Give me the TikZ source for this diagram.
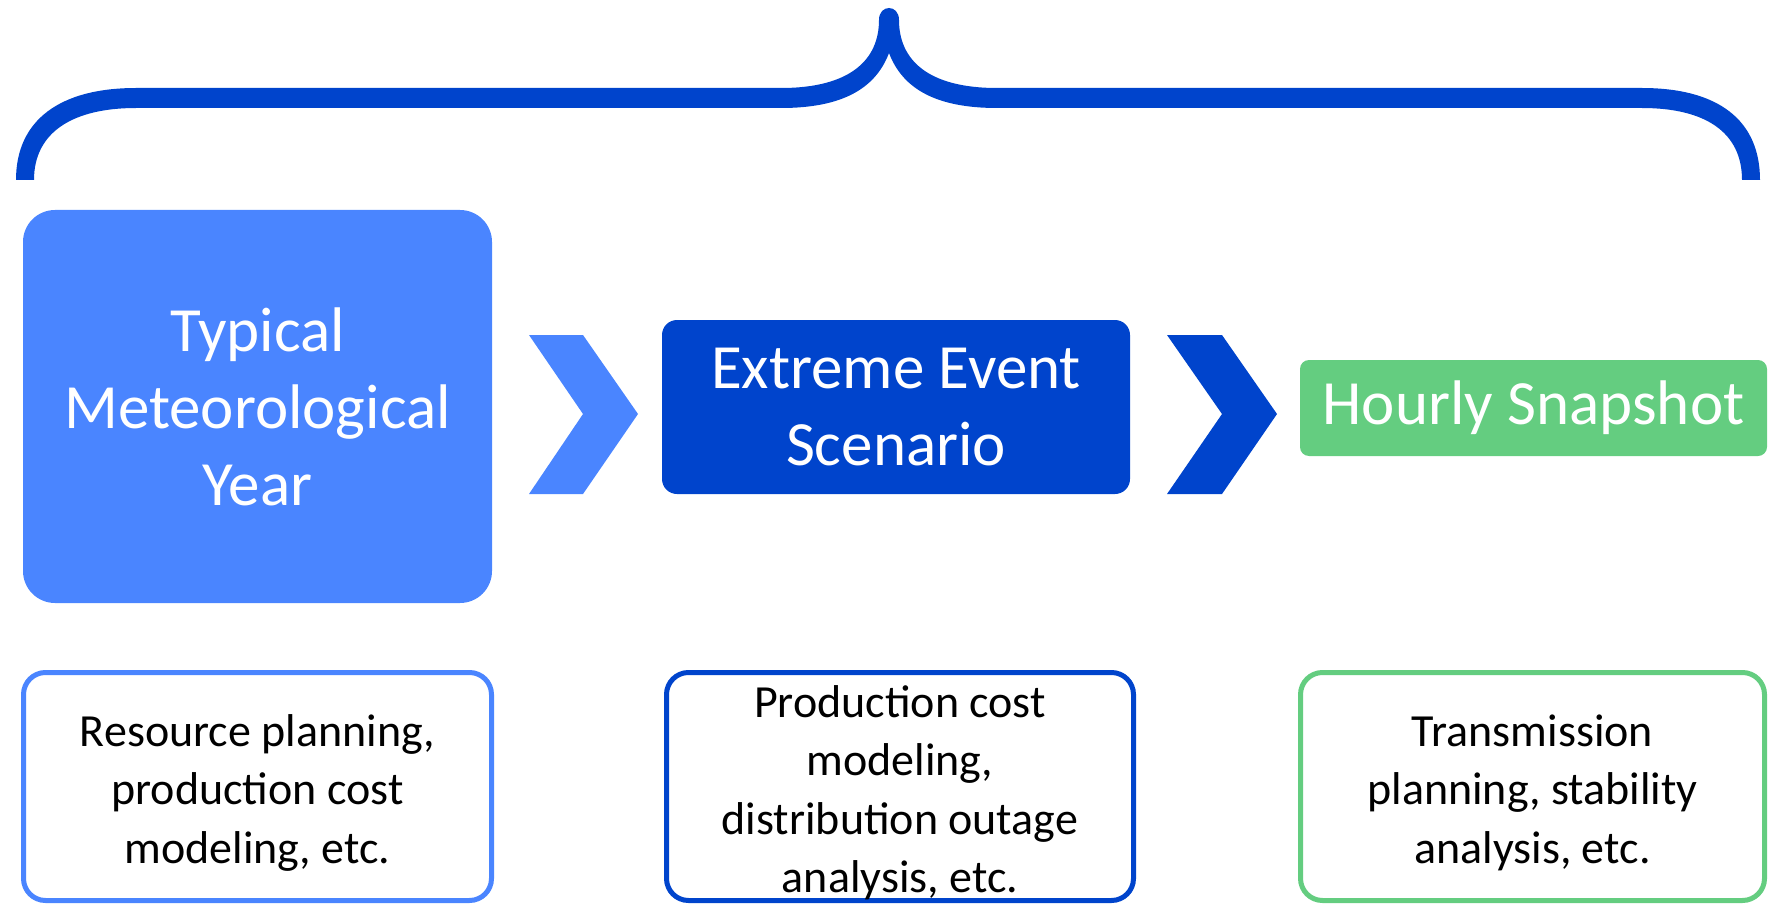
\documentclass[tikz,border=0pt]{standalone}
\usepackage{fontspec}
\setmainfont{Carlito}
\definecolor{skyblue}{HTML}{4A85FF}
\definecolor{royal}{HTML}{0044CC}
\definecolor{mint}{HTML}{64CD80}
\begin{document}
\begin{tikzpicture}[x=1pt,y=-1pt,
  stage/.style={inner sep=0pt, text=white, align=center,
    font=\fontsize{63}{77}\selectfont},
  usecase/.style={draw, line width=5pt, fill=white, inner sep=0pt,
    rounded corners=22pt, minimum height=228pt},
  usetext/.style={inner sep=0pt, align=center, text=black,
    font=\fontsize{46}{58.5}\selectfont}]
\useasboundingbox (0,0) rectangle (1775,904);

% curly brace spanning the three stages
\fill[royal]
  (16,180) .. controls (16,120) and (60,88) .. (136,88)
  -- (781,88) .. controls (850,88) and (879,60) .. (879,20)
  .. controls (879,4) and (899,4) .. (899,20)
  .. controls (899,60) and (928,88) .. (997,88)
  -- (1642,88) .. controls (1718,88) and (1760,120) .. (1760,180)
  -- (1742,180) .. controls (1742,132) and (1705,108) .. (1642,108)
  -- (997,108) .. controls (938,108) and (903,90) .. (889,53)
  .. controls (875,90) and (840,108) .. (781,108)
  -- (136,108) .. controls (73,108) and (34,132) .. (34,180)
  -- cycle;

% stages
\node[stage, fill=skyblue, rounded corners=32pt, minimum width=469pt,
  minimum height=393pt] (tmy) at (257.5,406.5) {Typical\\Meteorological\\Year};
\node[stage, fill=royal, rounded corners=15pt, minimum width=468pt,
  minimum height=174pt] (ees) at (896,407) {Extreme Event\\Scenario};
\node[stage, fill=mint, rounded corners=9pt, minimum width=467pt,
  minimum height=96pt] (hs) at (1533.5,408) {Hourly Snapshot};

% chevrons between stages
\fill[skyblue] (529,335) -- (583,335) -- (638,414) -- (583,494)
  -- (529,494) -- (583,414) -- cycle;
\fill[royal] (1167,335) -- (1222,335) -- (1277,414) -- (1222,494)
  -- (1167,494) -- (1222,414) -- cycle;

% applications of each stage
\node[usecase, draw=skyblue, minimum width=468pt] (tmyuse) at (257.5,786.5) {};
\node[usecase, draw=royal, minimum width=467pt] (eesuse) at (900,786.5) {};
\node[usecase, draw=mint, minimum width=464pt] (hsuse) at (1532.5,786.5) {};
\node[usetext] (tmyusetext) at ([yshift=-6pt]tmyuse.center)
  {Resource planning,\\production cost\\modeling, etc.};
\node[usetext] (eesusetext) at ([yshift=-6pt]eesuse.center)
  {Production cost\\modeling,\\distribution outage\\analysis, etc.};
\node[usetext] (hsusetext) at ([yshift=-6pt]hsuse.center)
  {Transmission\\planning, stability\\analysis, etc.};
\end{tikzpicture}
\end{document}
